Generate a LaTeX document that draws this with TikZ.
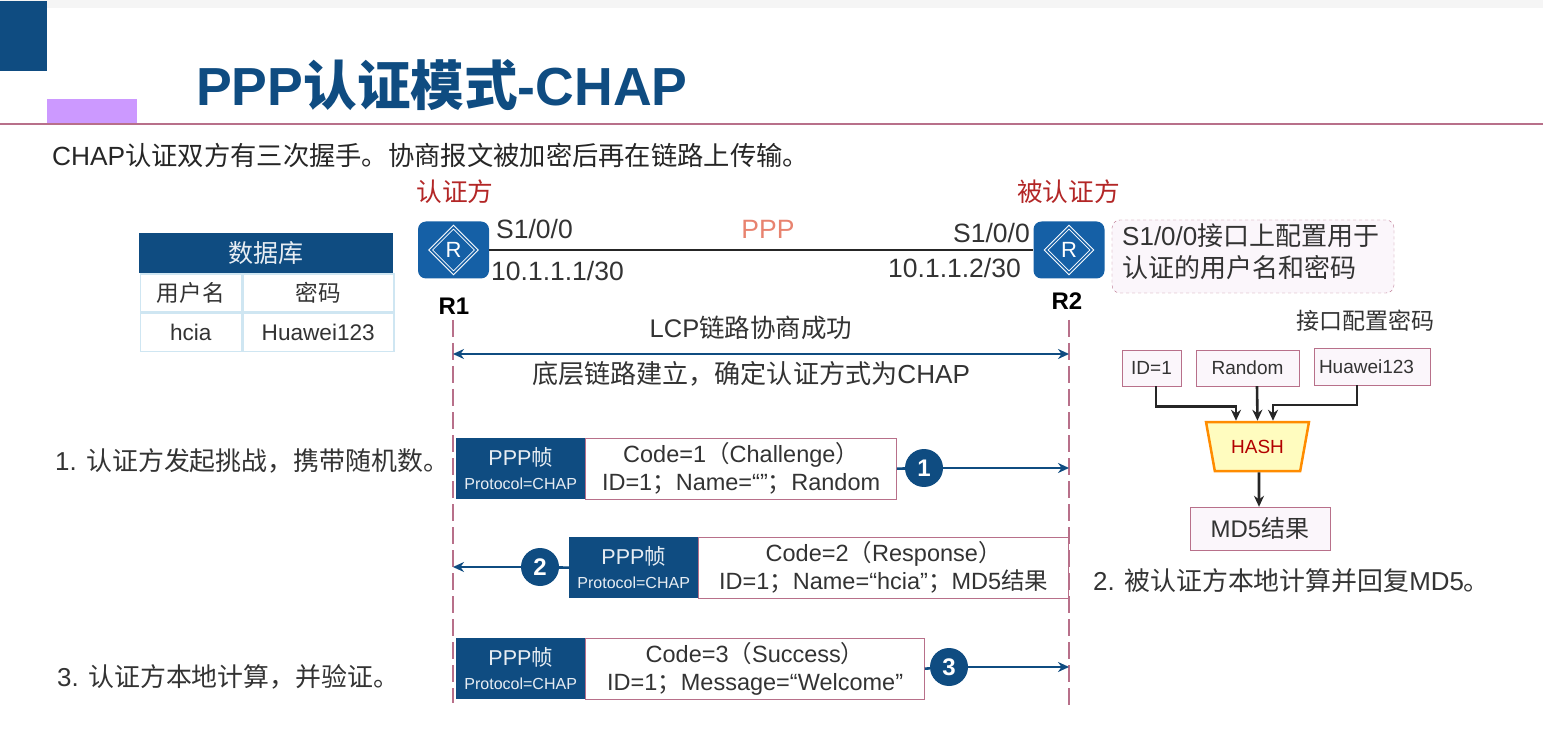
\documentclass[tikz,border=0pt]{standalone}
\usepackage{fontspec}
\usepackage{xcolor}
\setmainfont{Liberation Sans}
\newfontfamily\cjk{Noto Sans CJK SC}
\newcommand{\zh}[1]{{\cjk #1}}
\newcommand{\fsz}[1]{\fontsize{#1}{#1}\selectfont}
\usetikzlibrary{positioning,shapes.geometric,arrows.meta}
\definecolor{navy}{HTML}{0F4C81}
\definecolor{rtblue}{HTML}{1560A6}
\definecolor{rose}{HTML}{B8708A}
\definecolor{ink}{HTML}{333333}
\definecolor{lilac}{HTML}{CC99FF}
\definecolor{pale}{HTML}{FBF6FB}
\definecolor{tabline}{HTML}{CFE6F2}
\definecolor{salmon}{HTML}{E8836F}
\tikzset{
  txt/.style={text=ink,inner sep=0pt,font=\fsz{26.5}},
  red/.style={txt,text=red!65!black!85,font=\fsz{25.7}},
  hdr/.style={rectangle,fill=navy,text=white!90!navy,anchor=north west,minimum width=129pt,
    minimum height=61pt,inner sep=0pt,align=center,font=\fsz{21.5}},
  body/.style={rectangle,draw=rose,fill=white,text=ink,minimum height=61pt,inner sep=0pt,
    align=center,font=\fontsize{23.5}{28}\selectfont},
  num/.style={circle,fill=navy,text=white,minimum size=38pt,inner sep=0pt,font=\bfseries\fsz{24}},
  fl/.style={-{Stealth[length=11pt,width=10pt]},draw=navy,line width=2.6pt},
  lnk/.style={draw=navy,line width=2.6pt},
  lcp/.style={{Stealth[length=11pt,width=10pt]}-{Stealth[length=11pt,width=10pt]},draw=navy,line width=2.6pt},
  life/.style={draw=rose,line width=2pt,dash pattern=on 17pt off 6pt},
  rtr/.style={rectangle,rounded corners=8pt,fill=rtblue,minimum width=71pt,minimum height=57pt,inner sep=0pt},
  dia/.style={diamond,draw=white,line width=1pt,double=rtblue,double distance=1.5pt,text=white,
    minimum size=46pt,inner sep=0pt,font=\fsz{22}},
  inbox/.style={rectangle,draw=rose,fill=pale,text=ink,inner sep=0pt,font=\fsz{19}},
  blk/.style={-{Stealth[length=11pt,width=10pt]},draw=black!85,line width=2.6pt},
  cell/.style={rectangle,draw=tabline,line width=1.5pt,fill=white,text=ink,inner sep=0pt,
    minimum height=38pt,font=\fsz{22.6}},
  step1/.style={txt,anchor=west,font=\fsz{25.9}},
}
\begin{document}
\begin{tikzpicture}[x=1pt,y=-1pt]
  \useasboundingbox (0,0) rectangle (1543,735);
  \fill[white] (0,0) rectangle (1543,735);
  \fill[black!4] (0,0) rectangle (1543,8);
  % title bar
  \fill[navy] (0,1) rectangle (47,71);
  \fill[lilac] (47,99) rectangle (137,124);
  \draw[rose,line width=2pt] (0,124.5) -- (1543,124.5);
  \node[anchor=west,inner sep=0pt,text=navy,font=\bfseries\fsz{53.6}] (title) at (196,85) {PPP\zh{认证模式}-CHAP};
  \node[txt,anchor=west,text=black!85,font=\fsz{26.3}] (intro) at (52,155) {CHAP\zh{认证双方有三次握手。协商报文被加密后再在链路上传输。}};
  % table
  \node[rectangle,fill=navy,text=white!90!navy,anchor=north west,minimum width=254pt,minimum height=40pt,
    inner sep=0pt,font=\fsz{25}] (dbh) at (139,233) {\zh{数据库}};
  \node[cell,anchor=north west,minimum width=101pt] (c11) at (139.5,273.5) {\zh{用户名}};
  \node[cell,right=0pt of c11,minimum width=151pt] (c12) {\zh{密码}};
  \node[cell,below=0pt of c11,minimum width=101pt] (c21) {hcia};
  \node[cell,right=0pt of c21,minimum width=151pt] (c22) {Huawei123};
  % routers
  \node[rtr] (r1) at (453.5,250) {};
  \node[rtr] (r2) at (1069,250) {};
  \node[dia] (d1) at (r1) {R};
  \node[dia] (d2) at (r2) {R};
  \draw[black!85,line width=2.5pt] (r1) -- (r2);
  \node[red] (auth1) at (455,192) {\zh{认证方}};
  \node[red] (auth2) at (1068.5,192) {\zh{被认证方}};
  \node[txt,anchor=west] (s1) at (496,229) {S1/0/0};
  \node[txt,anchor=east] (s2) at (1030,233) {S1/0/0};
  \node[txt,anchor=west] (ip1) at (491,271) {10.1.1.1/30};
  \node[txt,anchor=east] (ip2) at (1021,268) {10.1.1.2/30};
  \node[txt,text=salmon] (ppp) at (768,229) {PPP};
  \node[txt,text=black,font=\bfseries\fsz{24}] (r1n) at (454,306) {R1};
  \node[txt,text=black,font=\bfseries\fsz{24}] (r2n) at (1067,301) {R2};
  \node[rectangle,draw=rose,fill=pale,dashed,rounded corners=8pt,minimum width=282pt,minimum height=73pt,
    inner sep=0pt] (note) at (1253,256.5) {};
  \node[txt,anchor=west,align=left,font=\fontsize{26}{32}\selectfont] (notet) at (1122,252)
    {S1/0/0\zh{接口上配置用于}\\\zh{认证的用户名和密码}};
  % life lines
  \coordinate (l1a) at (453,320);
  \coordinate (l1b) at (453,703);
  \coordinate (l2a) at (1069,320);
  \coordinate (l2b) at (1069,710);
  \coordinate (m1) at (453,354);
  \coordinate (m2) at (1069,354);
  \draw[life] (l1a) -- (l1b);
  \draw[life] (l2a) -- (l2b);
  \draw[lcp] (m1) -- (m2);
  \node[txt,font=\fsz{25.5}] (lcpt) at (751,328) {LCP\zh{链路协商成功}};
  \node[txt,font=\fsz{26.1}] (base) at (751,374) {\zh{底层链路建立，确定认证方式为}CHAP};
  % frames
  \node[hdr] (h1) at (456,438) {PPP\zh{帧}\\[3pt]{\fsz{16}Protocol=CHAP}};
  \node[body,right=0pt of h1,minimum width=311pt] (b1) {Code=1\zh{（}Challenge\zh{）}\\ID=1\zh{；}Name=“”\zh{；}Random};
  \node[hdr] (h2) at (569,537) {PPP\zh{帧}\\[3pt]{\fsz{16}Protocol=CHAP}};
  \node[body,right=0pt of h2,minimum width=370pt] (b2) {Code=2\zh{（}Response\zh{）}\\ID=1\zh{；}Name=“hcia”\zh{；}MD5\zh{结果}};
  \node[hdr] (h3) at (456,638) {PPP\zh{帧}\\[3pt]{\fsz{16}Protocol=CHAP}};
  \node[body,right=0pt of h3,minimum width=339pt] (b3) {Code=3\zh{（}Success\zh{）}\\ID=1\zh{；}Message=“Welcome”};
  \node[num] (n1) at (924,468) {1};
  \node[num] (n2) at (540,567) {2};
  \node[num] (n3) at (949,667) {3};
  \draw[lnk] (b1.east) -- (n1);
  \draw[fl] (n1) -- (n1 -| l2a);
  \draw[lnk] (h2.west) -- (n2);
  \draw[fl] (n2) -- (n2 -| l1a);
  \draw[lnk] (b3.east) -- (n3);
  \draw[fl] (n3) -- (n3 -| l2a);
  % left and right remarks
  \node[step1] (st1) at (55,461) {1. \zh{认证方发起挑战，携带随机数。}};
  \node[step1] (st3) at (57,677) {3. \zh{认证方本地计算，并验证。}};
  \node[step1] (st2) at (1093,581) {2. \zh{被认证方本地计算并回复}MD5\zh{。}};
  % hash
  \node[txt,font=\fsz{23}] (pwd) at (1365,321) {\zh{接口配置密码}};
  \node[inbox,minimum width=59pt,minimum height=36pt] (idb) at (1151.5,368) {ID=1};
  \node[inbox,minimum width=103pt,minimum height=36pt] (rnd) at (1247.5,368) {Random};
  \node[inbox,minimum width=116pt,minimum height=37pt,text width=106pt,align=left] (hw) at (1372,366.5) {Huawei123};
  \node[trapezium,shape border rotate=180,trapezium angle=68,draw=orange!90!yellow,line width=2.5pt,fill=yellow!25,
    text=red!70!black,minimum width=103pt,minimum height=49pt,inner sep=0pt,trapezium stretches=true,
    font=\fsz{19}] (hash) at (1257.5,446.5) {HASH};
  \node[inbox,minimum width=140pt,minimum height=43pt,font=\fsz{24}] (md5) at (1260,528.5) {MD5\zh{结果}};
  \draw[blk] ([xshift=4.5pt]idb.south) -- ++(0,20) -| ([xshift=-21.5pt]hash.north);
  \draw[blk] ([xshift=9.5pt]rnd.south) -- (hash.north);
  \draw[blk] ([xshift=-15pt]hw.south) -- ++(0,20) -| ([xshift=15.5pt]hash.north);
  \draw[blk] ([xshift=1.5pt]hash.south) -- ([xshift=-1pt]md5.north);
\end{tikzpicture}
\end{document}
